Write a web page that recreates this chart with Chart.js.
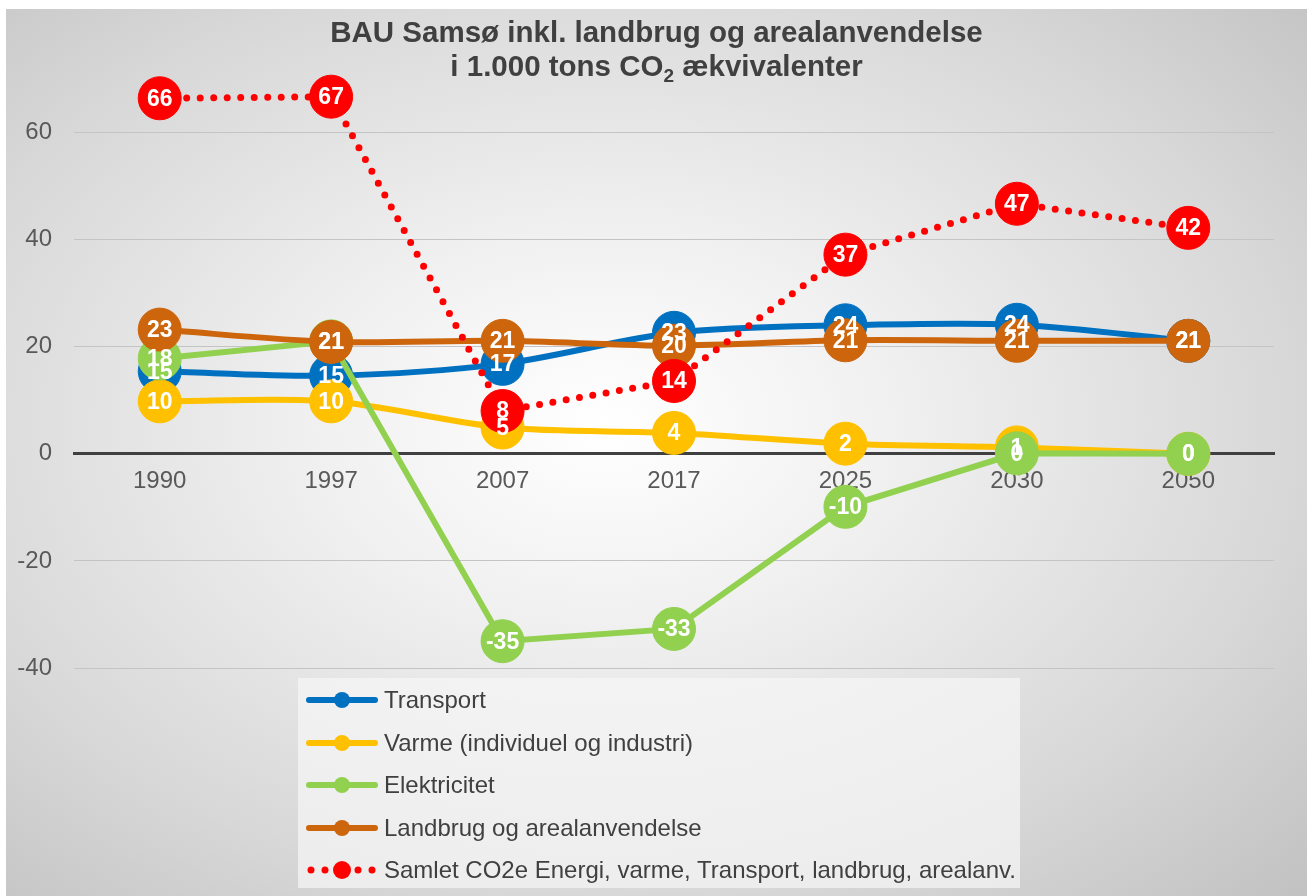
<!DOCTYPE html>
<html>
<head>
<meta charset="utf-8">
<script src="https://cdn.jsdelivr.net/npm/chart.js@4.4.1/dist/chart.umd.min.js"></script>
<style>
  html, body { margin: 0; padding: 0; background: #fff; }
  body { width: 1307px; height: 896px; position: relative; overflow: hidden;
         font-family: "Liberation Sans", Arial, sans-serif; }
  #box { position: absolute; left: 6px; top: 9px; width: 1301px; height: 887px;
         background: radial-gradient(ellipse 75% 75% at 46% 47%, #ffffff 0%, #f0f0f0 30%, #d8d8d8 70%, #c2c2c2 100%); }
  #chart { position: absolute; left: 0; top: 0; }
  #title { position: absolute; left: 0; top: 6px; width: 1301px; text-align: center;
           font-weight: bold; font-size: 29.5px; line-height: 34px; color: #404040; }
  #title sub { font-size: 19px; line-height: 0; vertical-align: -6px; }
  #legend { position: absolute; left: 292px; top: 669px; width: 722px; height: 210px;
            background: rgba(246,246,246,0.7); }
  .item { position: absolute; left: 7px; height: 30px; display: flex; align-items: center;
          font-size: 24px; color: #404040; white-space: nowrap; }
  .item svg { margin-right: 5px; }
</style>
</head>
<body>
<div id="box">
  <canvas id="chart" width="1301" height="887"></canvas>
  <div id="title">BAU Samsø inkl. landbrug og arealanvendelse<br>i 1.000 tons CO<sub>2</sub> ækvivalenter</div>
  <div id="legend"></div>
</div>
<script>
'use strict';

const years = ['1990', '1997', '2007', '2017', '2025', '2030', '2050'];

const transport    = [15.4, 14.6, 16.8, 22.6, 24.0, 24.1, 21.1];
const varme        = [9.8, 9.8, 4.9, 3.9, 1.9, 1.2, 0];
const elektricitet = [17.8, 21.0, -35.0, -32.7, -9.9, 0.1, 0];
const landbrug     = [23.2, 20.9, 21.1, 20.2, 21.2, 21.1, 21.1];
const samlet       = [66.4, 66.7, 8.0, 13.6, 37.2, 46.7, 42.2];

const seriesNames = [
  'Transport',
  'Varme (individuel og industri)',
  'Elektricitet',
  'Landbrug og arealanvendelse',
  'Samlet CO2e Energi, varme, Transport, landbrug, arealanv.'
];
const seriesColors = ['#0070C0', '#FFC000', '#92D050', '#CC650C', '#FF0000'];

const FONT = '"Liberation Sans", Arial, sans-serif';

function lineSet(i, data, tension) {
  return {
    label: seriesNames[i],
    data,
    borderColor: seriesColors[i],
    backgroundColor: seriesColors[i],
    borderWidth: 6,
    tension,
    pointRadius: 21.5,
    pointBorderWidth: 1,
    pointBackgroundColor: seriesColors[i],
    pointBorderColor: seriesColors[i],
    order: 5 - i,
    clip: false
  };
}

const datasets = [
  lineSet(0, transport, 0.3),
  lineSet(1, varme, 0.3),
  lineSet(2, elektricitet, 0),
  lineSet(3, landbrug, 0.3),
  Object.assign(lineSet(4, samlet, 0), {
    borderWidth: 7,
    borderDash: [0, 13.5],
    borderCapStyle: 'round'
  })
];

// white value labels centred on the markers, drawn after all series
const valueLabels = {
  id: 'valueLabels',
  afterDatasetsDraw(chart) {
    const ctx = chart.ctx;
    ctx.save();
    ctx.font = 'bold 23px ' + FONT;
    ctx.fillStyle = '#ffffff';
    ctx.textAlign = 'center';
    ctx.textBaseline = 'middle';
    chart.data.datasets.forEach((ds, i) => {
      chart.getDatasetMeta(i).data.forEach((pt, j) => {
        ctx.fillText(String(Math.round(ds.data[j])), pt.x, pt.y + 1);
      });
    });
    ctx.restore();
  }
};

new Chart(document.getElementById('chart').getContext('2d'), {
  type: 'line',
  data: { labels: years, datasets },
  options: {
    responsive: false,
    animation: false,
    events: [],
    layout: { padding: { left: 0, right: 33, top: 70, bottom: 228 } },
    plugins: { legend: { display: false }, title: { display: false }, tooltip: { enabled: false } },
    scales: {
      y: {
        min: -40,
        max: 70,
        afterFit: (s) => { s.width = 68; },
        ticks: { stepSize: 20, includeBounds: false, padding: 22, color: '#595959',
                 font: { family: FONT, size: 24 } },
        grid: {
          drawTicks: false,
          color: (c) => c.tick && c.tick.value === 0 ? '#404040' : '#c4c4c4',
          lineWidth: (c) => c.tick && c.tick.value === 0 ? 3 : 1
        },
        border: { display: false }
      },
      x: {
        position: { y: 0 },
        offset: true,
        ticks: { padding: 13, color: '#595959', font: { family: FONT, size: 24 } },
        grid: { display: false, drawTicks: false },
        border: { display: true, color: '#404040', width: 3 }
      }
    }
  },
  plugins: [valueLabels]
});

// legend, one entry per row
const legend = document.getElementById('legend');
seriesNames.forEach((name, i) => {
  const c = seriesColors[i];
  const sym = i === 4
    ? `<circle cx="6" cy="15" r="3.5" fill="${c}"/><circle cx="20" cy="15" r="3.5" fill="${c}"/>` +
      `<circle cx="37" cy="15" r="9" fill="${c}"/><circle cx="53" cy="15" r="3.5" fill="${c}"/>` +
      `<circle cx="67" cy="15" r="3.5" fill="${c}"/>`
    : `<line x1="4" y1="15" x2="70" y2="15" stroke="${c}" stroke-width="6" stroke-linecap="round"/>` +
      `<circle cx="37" cy="15" r="8" fill="${c}"/>`;
  const row = document.createElement('div');
  row.className = 'item';
  row.style.top = (7 + i * 42.5) + 'px';
  row.innerHTML = `<svg width="74" height="30">${sym}</svg><span>${name}</span>`;
  legend.appendChild(row);
});
</script>
</body>
</html>
